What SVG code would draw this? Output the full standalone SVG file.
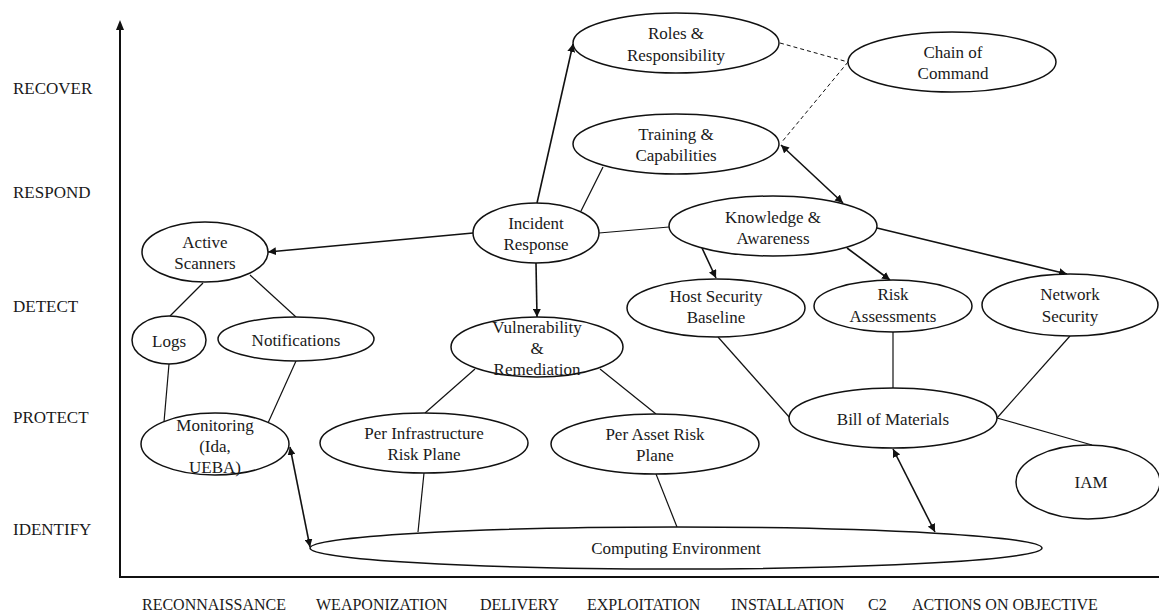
<svg xmlns="http://www.w3.org/2000/svg" width="1159" height="613" viewBox="0 0 1159 613">
<style>
text{font-family:"Liberation Serif","Times New Roman",serif;fill:#1a1a1a}
.lbl{font-size:17px}
.ax{font-size:16px}
.n ellipse{fill:#fff;stroke:#111;stroke-width:1.5}
.n text{font-size:17px;text-anchor:middle}
.c line{stroke:#111;stroke-width:1.2;fill:none}
.c .a{stroke-width:1.6}
.c .d{stroke-dasharray:4 3;stroke-width:1}
</style>
<defs>
<marker id="ah" viewBox="0 0 10 10" refX="10" refY="5" markerWidth="8" markerHeight="8" markerUnits="userSpaceOnUse" orient="auto-start-reverse">
<path d="M0,0 L10,5 L0,10 z" fill="#111"/>
</marker>
</defs>
<g id="axes">
<line x1="120" y1="577" x2="120" y2="26" stroke="#111" stroke-width="2"/>
<path d="M116,30 L120,20 L124,30 z" fill="#111"/>
<line x1="119" y1="577" x2="1159" y2="577" stroke="#111" stroke-width="2"/>
</g>
<g id="y-labels" class="lbl">
<text x="13" y="94">RECOVER</text>
<text x="13" y="198">RESPOND</text>
<text x="13" y="312">DETECT</text>
<text x="13" y="423">PROTECT</text>
<text x="13" y="535">IDENTIFY</text>
</g>
<g id="x-labels" class="ax">
<text x="142" y="610">RECONNAISSANCE</text>
<text x="316" y="610">WEAPONIZATION</text>
<text x="480" y="610">DELIVERY</text>
<text x="587" y="610">EXPLOITATION</text>
<text x="731" y="610">INSTALLATION</text>
<text x="868" y="610">C2</text>
<text x="912" y="610">ACTIONS ON OBJECTIVE</text>
</g>
<g id="connectors" class="c">
<line class="a" x1="537" y1="203" x2="573" y2="44" marker-end="url(#ah)"/>
<line class="a" x1="473" y1="233" x2="268" y2="252" marker-end="url(#ah)"/>
<line class="a" x1="536" y1="263" x2="537" y2="317" marker-end="url(#ah)"/>
<line class="a" x1="781" y1="145" x2="843" y2="203" marker-start="url(#ah)" marker-end="url(#ah)"/>
<line class="a" x1="702" y1="248" x2="716" y2="278" marker-end="url(#ah)"/>
<line class="a" x1="847" y1="248" x2="890" y2="280" marker-end="url(#ah)"/>
<line class="a" x1="877" y1="228" x2="1067" y2="274" marker-end="url(#ah)"/>
<line class="a" x1="290" y1="447" x2="310" y2="547" marker-start="url(#ah)" marker-end="url(#ah)"/>
<line class="a" x1="893" y1="449" x2="935" y2="532" marker-start="url(#ah)" marker-end="url(#ah)"/>
<line x1="581" y1="211" x2="603" y2="167"/>
<line x1="599" y1="233" x2="669" y2="227"/>
<line class="d" x1="780" y1="43" x2="848" y2="62"/>
<line class="d" x1="848" y1="62" x2="781" y2="143"/>
<line x1="203" y1="283" x2="170" y2="316"/>
<line x1="250" y1="275" x2="296" y2="317"/>
<line x1="169" y1="364" x2="164" y2="422"/>
<line x1="296" y1="361" x2="268" y2="423"/>
<line x1="475" y1="369" x2="425" y2="413"/>
<line x1="600" y1="369" x2="656" y2="414"/>
<line x1="424" y1="473" x2="418" y2="532"/>
<line x1="656" y1="474" x2="677" y2="527"/>
<line x1="718" y1="337" x2="790" y2="418"/>
<line x1="893" y1="331" x2="893" y2="388"/>
<line x1="1070" y1="336" x2="997" y2="418"/>
<line x1="997" y1="418" x2="1092" y2="445"/>
</g>
<g id="roles" class="n"><ellipse cx="676" cy="43" rx="103" ry="30"/><text x="676" y="39">Roles &amp;</text><text x="676" y="61">Responsibility</text></g>
<g id="chain" class="n"><ellipse cx="952" cy="62" rx="104" ry="30"/><text x="953" y="58">Chain of</text><text x="953" y="79">Command</text></g>
<g id="training" class="n"><ellipse cx="676" cy="144" rx="103" ry="30"/><text x="676" y="140">Training &amp;</text><text x="676" y="161">Capabilities</text></g>
<g id="incident" class="n"><ellipse cx="536" cy="233" rx="63" ry="30"/><text x="536" y="229">Incident</text><text x="536" y="250">Response</text></g>
<g id="knowledge" class="n"><ellipse cx="773" cy="226" rx="104" ry="30"/><text x="773" y="223">Knowledge &amp;</text><text x="773" y="244">Awareness</text></g>
<g id="scanners" class="n"><ellipse cx="205" cy="252" rx="63" ry="30"/><text x="205" y="248">Active</text><text x="205" y="269">Scanners</text></g>
<g id="logs" class="n"><ellipse cx="169" cy="340" rx="37" ry="24"/><text x="169" y="347">Logs</text></g>
<g id="notifications" class="n"><ellipse cx="296" cy="339" rx="78" ry="22"/><text x="296" y="346">Notifications</text></g>
<g id="monitoring" class="n"><ellipse cx="215" cy="444" rx="74" ry="31"/><text x="215" y="431">Monitoring</text><text x="215" y="452">(Ida,</text><text x="215" y="473">UEBA)</text></g>
<g id="vulnerability" class="n"><ellipse cx="537" cy="347" rx="86" ry="30"/><text x="537" y="333">Vulnerability</text><text x="537" y="354">&amp;</text><text x="537" y="375">Remediation</text></g>
<g id="host" class="n"><ellipse cx="716" cy="308" rx="89" ry="29"/><text x="716" y="302">Host Security</text><text x="716" y="323">Baseline</text></g>
<g id="risk" class="n"><ellipse cx="893" cy="306" rx="79" ry="26"/><text x="893" y="300">Risk</text><text x="893" y="322">Assessments</text></g>
<g id="network" class="n"><ellipse cx="1070" cy="305" rx="88" ry="31"/><text x="1070" y="300">Network</text><text x="1070" y="322">Security</text></g>
<g id="perinfra" class="n"><ellipse cx="424" cy="443" rx="104" ry="30"/><text x="424" y="439">Per Infrastructure</text><text x="424" y="460">Risk Plane</text></g>
<g id="perasset" class="n"><ellipse cx="655" cy="444" rx="104" ry="30"/><text x="655" y="440">Per Asset Risk</text><text x="655" y="461">Plane</text></g>
<g id="bom" class="n"><ellipse cx="893" cy="418" rx="104" ry="30"/><text x="893" y="425">Bill of Materials</text></g>
<g id="iam" class="n"><ellipse cx="1088" cy="482" rx="72" ry="37"/><text x="1091" y="488">IAM</text></g>
<g id="computing" class="n"><ellipse cx="676" cy="548" rx="366" ry="21"/><text x="676" y="554">Computing Environment</text></g>
</svg>
